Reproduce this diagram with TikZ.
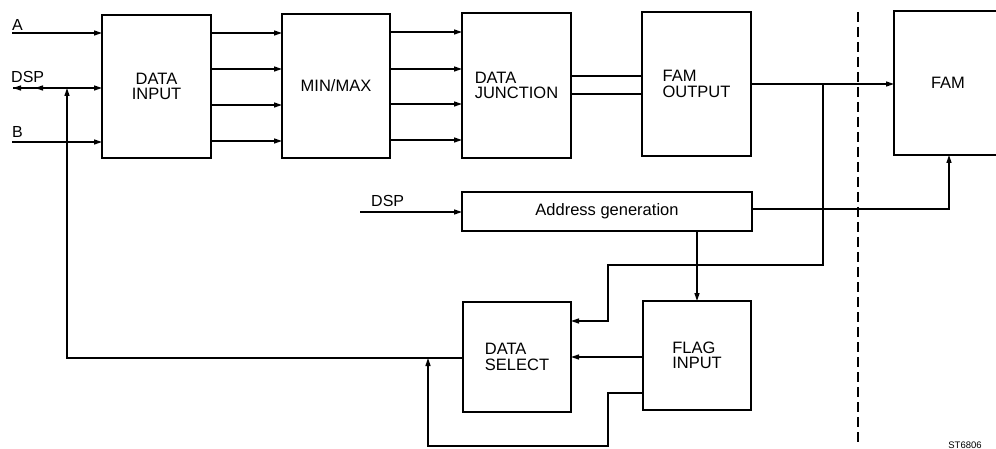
\documentclass[tikz,border=0pt]{standalone}
\usepackage{fontspec}
\setmainfont{Liberation Sans}
\usetikzlibrary{arrows.meta}
\begin{document}
\begin{tikzpicture}[x=1pt,y=-1pt,
  box/.style={draw,line width=1.7pt,inner sep=0pt,outer sep=0pt,font=\fontsize{16.5}{15.5}\selectfont},
  conn/.style={line width=1.3pt},
  arr/.style={conn,-{Triangle[length=8pt,width=5pt]}},
  lbl/.style={font=\fontsize{16}{16}\selectfont,inner sep=0pt}]
\useasboundingbox (0,0) rectangle (996,449);
\clip (0,0) rectangle (996,449);
% boxes
\node[box,minimum width=109pt,minimum height=143pt,align=center] (din) at (156.5,86.5) {DATA\\INPUT};
\node[box,minimum width=108pt,minimum height=144pt] (mm) at (336,86) {MIN/MAX};
\node[box,minimum width=109pt,minimum height=145pt,align=left] (dj) at (516.5,85.5) {DATA\\JUNCTION};
\node[box,minimum width=109pt,minimum height=144pt,align=left] (fo) at (696.5,84) {FAM\\OUTPUT};
\node[box,minimum width=108pt,minimum height=144pt] (fam) at (948,83) {FAM};
\node[box,minimum width=290pt,minimum height=39pt] (ag) at (607,211.5) {Address generation};
\node[box,minimum width=108pt,minimum height=109pt,align=left] (fi) at (697,355.5) {FLAG\\INPUT};
\node[box,minimum width=108pt,minimum height=110pt,align=left] (ds) at (517,357) {DATA\\SELECT};
% labels
\node[lbl,anchor=west] (lA) at (12,25) {A};
\node[lbl,anchor=west] (lDSP) at (11,77) {DSP};
\node[lbl,anchor=west] (lB) at (12,132) {B};
\node[lbl,anchor=west] (lDSP2) at (371,201) {DSP};
\node[font=\fontsize{9.5}{10}\selectfont,inner sep=0pt] (st) at (965,445) {ST6806};
% inputs
\coordinate (inA) at (12,33);
\coordinate (inD) at (13,88);
\coordinate (inB) at (12,142);
\draw[arr] (inA) -- (din.west |- inA);
\draw[arr] (inD) -- (din.west |- inD);
\draw[arr] (24,88) -- (inD);
\draw[arr] (44,88) -- (35,88);
\draw[arr] (inB) -- (din.west |- inB);
% din -> mm
\foreach \y in {33,69,105,141} \draw[arr] (din.east |- 0,\y) -- (mm.west |- 0,\y);
% mm -> dj
\foreach \y in {32,69,104,140} \draw[arr] (mm.east |- 0,\y) -- (dj.west |- 0,\y);
% dj -> fo
\foreach \y in {76,94} \draw[conn] (dj.east |- 0,\y) -- (fo.west |- 0,\y);
% fo -> fam
\draw[arr] (fo.east |- 0,84) -- (fam.west |- 0,84);
\coordinate (br) at (823,84);
\draw[arr] (br) -- (823,265) -- (608,265) -- (608,321) -- (ds.east |- 0,321);
% address generation
\coordinate (inD2) at (360,212);
\draw[arr] (inD2) -- (ag.west |- inD2);
\draw[arr] (ag.east |- 0,209) -- (949,209) -- (fam.south -| 949,0);
\draw[arr] (ag.south -| 697,0) -- (fi.north -| 697,0);
% flag input -> data select
\draw[arr] (fi.west |- 0,357) -- (ds.east |- 0,357);
% data select -> feedback
\coordinate (fb) at (67,88);
\draw[arr] (ds.west |- 0,358) -- (67,358) -- (fb);
\coordinate (jn) at (428,358);
\draw[arr] (fi.west |- 0,393) -- (608,393) -- (608,446) -- (428,446) -- (jn);
% dashed divider
\draw[line width=2.2pt,dash pattern=on 10pt off 5pt] (858,12) -- (858,445);
\end{tikzpicture}
\end{document}
